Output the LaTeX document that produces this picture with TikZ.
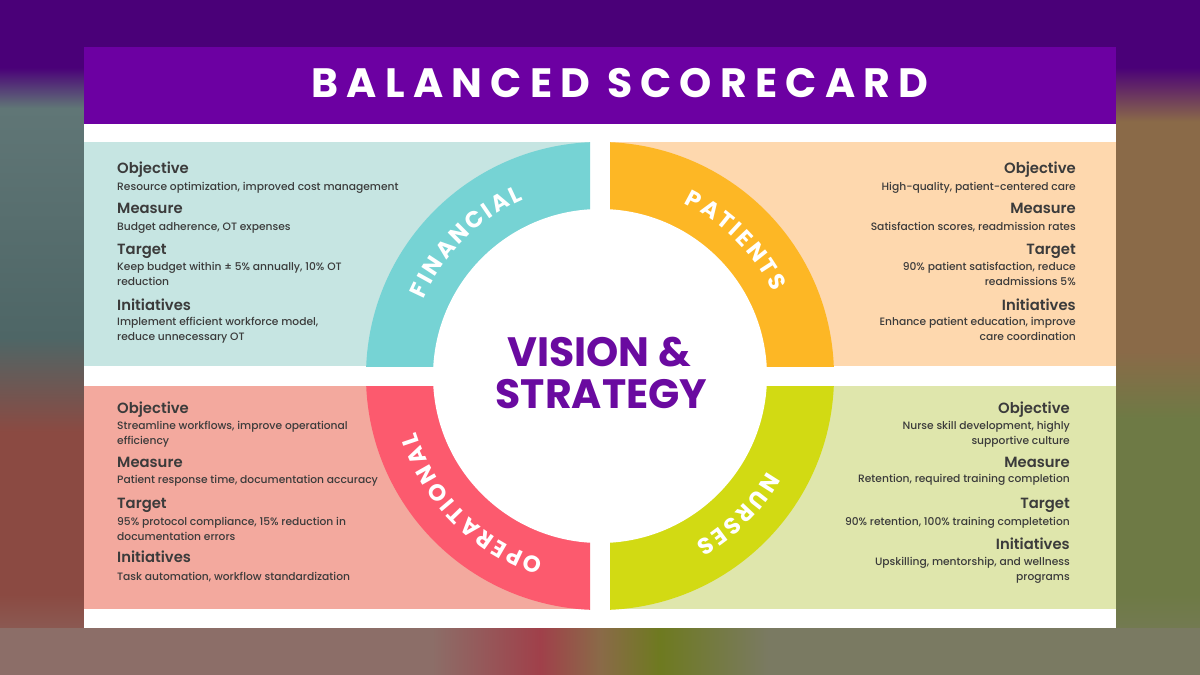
\documentclass[tikz,border=0pt]{standalone}
\usepackage{fontspec}
\setmainfont{Poppins}
\newfontfamily\titlefont[LetterSpace=20]{Poppins}
\newfontfamily\ringfont[WordSpace=0.55]{Poppins}
\newfontfamily\headfont{Poppins SemiBold}
\newfontfamily\bodyfont{Poppins Medium}
\usepackage{tikz}
\usetikzlibrary{decorations.text}

\definecolor{bgPurple}{RGB}{ 74,  0,120}
\definecolor{bgTeal}{RGB}{ 96,118,118}
\definecolor{bgTealDk}{RGB}{ 78,102,102}
\definecolor{bgRed}{RGB}{139, 74, 66}
\definecolor{bgRose}{RGB}{140,110,104}
\definecolor{bgBrown}{RGB}{138,106, 72}
\definecolor{bgOlive}{RGB}{110,122, 69}
\definecolor{bgGray}{RGB}{122,122, 98}
\definecolor{bgBlobR}{RGB}{160, 64, 74}
\definecolor{bgBlobG}{RGB}{110,122, 32}
\definecolor{titleC}{RGB}{108,  0,162}
\definecolor{visionC}{RGB}{106, 10,160}
\definecolor{inkC}{RGB}{ 59, 59, 59}
\definecolor{finC}{RGB}{118,211,212}
\definecolor{finBg}{RGB}{198,229,226}
\definecolor{patC}{RGB}{253,183, 37}
\definecolor{patBg}{RGB}{254,216,174}
\definecolor{opC}{RGB}{252, 90,110}
\definecolor{opBg}{RGB}{243,169,158}
\definecolor{nurC}{RGB}{210,218, 19}
\definecolor{nurBg}{RGB}{223,230,172}

\pgfdeclareverticalshading{bgleft}{100bp}{color(0bp)=(bgRose); color(25bp)=(bgRose);
  color(31bp)=(bgRed); color(43bp)=(bgRed); color(50bp)=(bgTealDk);
  color(67bp)=(bgTeal); color(70bp)=(bgPurple); color(100bp)=(bgPurple)}
\pgfdeclareverticalshading{bgright}{100bp}{color(0bp)=(bgGray); color(25bp)=(bgGray);
  color(31bp)=(bgOlive); color(44bp)=(bgOlive); color(49bp)=(bgBrown);
  color(66bp)=(bgBrown); color(70bp)=(bgPurple); color(100bp)=(bgPurple)}
\pgfdeclarehorizontalshading{bgbottom}{100bp}{color(0bp)=(bgRose); color(25bp)=(bgRose);
  color(43bp)=(bgRose); color(47.5bp)=(bgBlobR); color(50bp)=(bgBrown);
  color(52.5bp)=(bgBlobG); color(57bp)=(bgGray); color(100bp)=(bgGray)}

\begin{document}
\begin{tikzpicture}[x=1pt, y=-1pt,
    head/.style={font=\headfont\fontsize{14.8}{18}\selectfont, text=inkC, inner sep=0pt},
    body/.style={font=\bodyfont\fontsize{10.7}{15}\selectfont, text=inkC, inner sep=0pt},
    lft/.style={anchor=base west, align=left},
    rgt/.style={anchor=base east, align=right},
    ringtext/.style={decorate, decoration={text along path, text align=center,
        text color=white, text={|\ringfont\fontsize{23}{23}\selectfont\bfseries|#1}}}]

    \useasboundingbox (0,0) rectangle (1200,675);

    %% --- blurred backdrop ---
    \shade[shading=bgleft] (0,0) rectangle (600,675);
    \shade[shading=bgright] (600,0) rectangle (1200,675);
    \shade[shading=bgbottom] (0,628) rectangle (1200,675);

    %% --- card and title bar ---
    \fill[white] (84,47) rectangle (1116,628);
    \fill[titleC] (84,47) rectangle (1116,124);
    \node[anchor=base, text=white, inner sep=0pt,
          font=\titlefont\fontsize{41}{44}\selectfont\bfseries] (title) at (620,97.5) {BALANCED SCORECARD};

    %% --- four light panels ---
    \fill[finBg] (84,142) rectangle (590,366);
    \fill[patBg] (610,142) rectangle (1116,366);
    \fill[opBg]  (84,386) rectangle (590,609);
    \fill[nurBg] (610,386) rectangle (1116,609);

    %% --- ring quarters, cut by the white cross ---
    \coordinate (O) at (600,376);
    \begin{scope}
        \clip (84,130) rectangle (590,366);
        \fill[finC] (O) circle (234);
    \end{scope}
    \begin{scope}
        \clip (610,130) rectangle (1116,366);
        \fill[patC] (O) circle (234);
    \end{scope}
    \begin{scope}
        \clip (84,386) rectangle (590,620);
        \fill[opC] (O) circle (234);
    \end{scope}
    \begin{scope}
        \clip (610,386) rectangle (1116,620);
        \fill[nurC] (O) circle (234);
    \end{scope}
    \fill[white] (O) circle (167);

    %% --- ring labels (clockwise, letters facing out) ---
    \path[ringtext={F I N A N C I A L}] (O) ++(-180:192) arc[start angle=-180, end angle=-90, radius=192];
    \path[ringtext={P A T I E N T S}] (O) ++(-90:192) arc[start angle=-90, end angle=0, radius=192];
    \path[ringtext={N U R S E S}] (O) ++(0:192) arc[start angle=0, end angle=90, radius=192];
    \path[ringtext={O P E R A T I O N A L}] (O) ++(90:192) arc[start angle=90, end angle=180, radius=192];

    %% --- centre ---
    \node[anchor=base, text=visionC, inner sep=0pt, font=\fontsize{41}{41}\selectfont\bfseries] (vision) at (599,366.7) {VISION \&};
    \node[anchor=base, text=visionC, inner sep=0pt, font=\fontsize{41}{41}\selectfont\bfseries] (strategy) at (601.5,408) {STRATEGY};

    %% --- Financial (top left) ---
    \node[head, lft] (finObj) at (117,173.3) {Objective};
    \node[body, lft] (finObjTxt) at (117,190) {Resource optimization, improved cost management};
    \node[head, lft] (finMea) at (117,213.3) {Measure};
    \node[body, lft] (finMeaTxt) at (117,230) {Budget adherence, OT expenses};
    \node[head, lft] (finTar) at (117,254.3) {Target};
    \node[body, lft] (finTarTxt) at (117,285) {Keep budget within ± 5\% annually, 10\% OT\\reduction};
    \node[head, lft] (finIni) at (117,310) {Initiatives};
    \node[body, lft] (finIniTxt) at (117,340.7) {Implement efficient workforce model,\\reduce unnecessary OT};

    %% --- Patients (top right) ---
    \node[head, rgt] (patObj) at (1076,173.3) {Objective};
    \node[body, rgt] (patObjTxt) at (1076,190) {High-quality, patient-centered care};
    \node[head, rgt] (patMea) at (1076,213.3) {Measure};
    \node[body, rgt] (patMeaTxt) at (1076,230) {Satisfaction scores, readmission rates};
    \node[head, rgt] (patTar) at (1076,254.3) {Target};
    \node[body, rgt] (patTarTxt) at (1076,285) {90\% patient satisfaction, reduce\\readmissions 5\%};
    \node[head, rgt] (patIni) at (1076,310) {Initiatives};
    \node[body, rgt] (patIniTxt) at (1076,340.7) {Enhance patient education, improve\\care coordination};

    %% --- Operational (bottom left) ---
    \node[head, lft] (opObj) at (117,413.3) {Objective};
    \node[body, lft] (opObjTxt) at (117,444) {Streamline workflows, improve operational\\efficiency};
    \node[head, lft] (opMea) at (117,467.3) {Measure};
    \node[body, lft] (opMeaTxt) at (117,483.3) {Patient response time, documentation accuracy};
    \node[head, lft] (opTar) at (117,508.3) {Target};
    \node[body, lft] (opTarTxt) at (117,540) {95\% protocol compliance, 15\% reduction in\\documentation errors};
    \node[head, lft] (opIni) at (117,562.7) {Initiatives};
    \node[body, lft] (opIniTxt) at (117,580) {Task automation, workflow standardization};

    %% --- Nurses (bottom right) ---
    \node[head, rgt] (nurObj) at (1070,413.3) {Objective};
    \node[body, rgt] (nurObjTxt) at (1070,444) {Nurse skill development, highly\\supportive culture};
    \node[head, rgt] (nurMea) at (1070,467.3) {Measure};
    \node[body, rgt] (nurMeaTxt) at (1070,482.7) {Retention, required training completion};
    \node[head, rgt] (nurTar) at (1070,508.3) {Target};
    \node[body, rgt] (nurTarTxt) at (1070,525) {90\% retention, 100\% training completetion};
    \node[head, rgt] (nurIni) at (1070,549.3) {Initiatives};
    \node[body, rgt] (nurIniTxt) at (1070,580) {Upskilling, mentorship, and wellness\\programs};

\end{tikzpicture}
\end{document}
